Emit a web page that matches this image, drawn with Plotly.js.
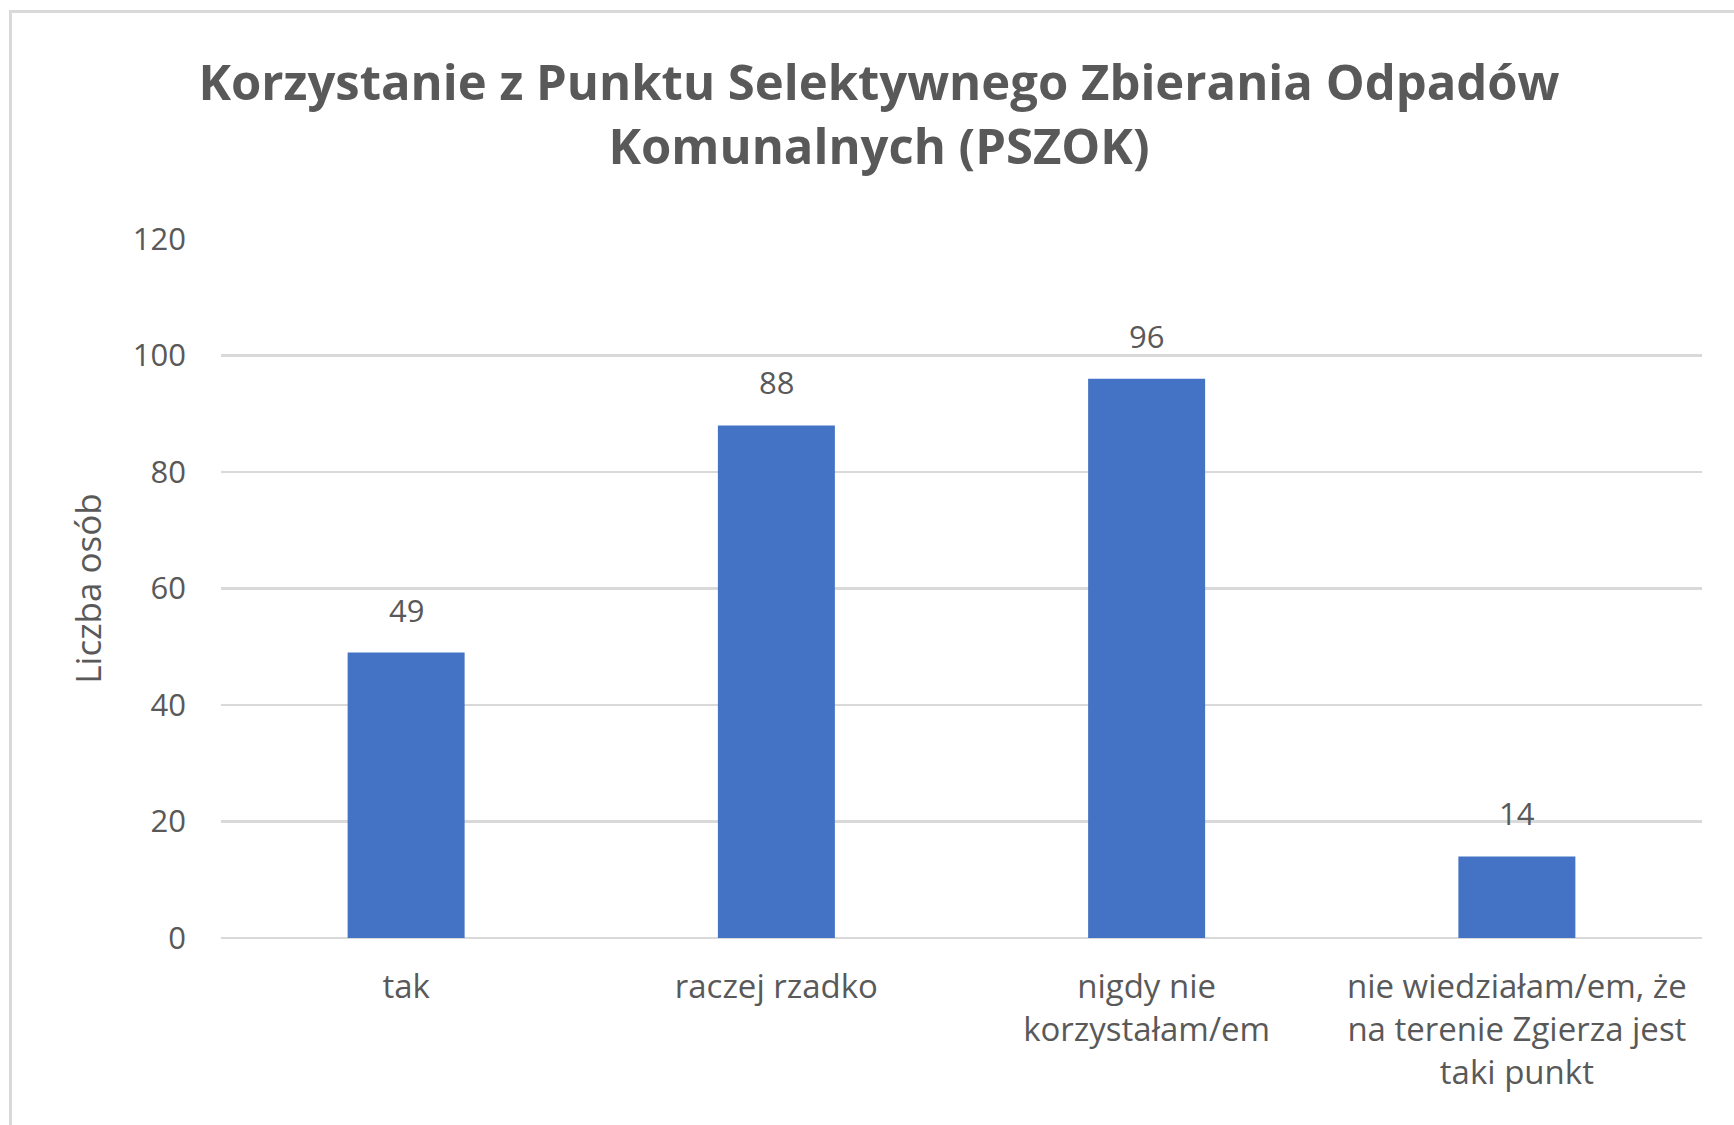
<!DOCTYPE html>
<html>
<head>
<meta charset="utf-8">
<script src="https://cdn.plot.ly/plotly-3.0.1.min.js"></script>
<style>
  html, body { margin: 0; padding: 0; background: #ffffff; overflow: hidden; }
  #chart { width: 1734px; height: 1125px; position: absolute; left: 0; top: 0; }
  #frame { position: absolute; left: 9px; top: 10px; width: 2000px; height: 2000px;
           border: 3px solid #D9D9D9; pointer-events: none; box-sizing: border-box; }
</style>
</head>
<body>
<div id="chart"></div>
<div id="frame"></div>
<script>
// ---- data ----
const categories = [
  "tak",
  "raczej rzadko",
  "nigdy nie<br>korzystałam/em",
  "nie wiedziałam/em, że<br>na terenie Zgierza jest<br>taki punkt"
];
const counts = [49, 88, 96, 14];
const chartTitle = "Korzystanie z Punktu Selektywnego Zbierania Odpadów<br>Komunalnych (PSZOK)";
const yAxisTitle = "Liczba osób";
const yTickValues = [0, 20, 40, 60, 80, 100, 120];

const textColor = "#595959";
const fontFamily = "'Open Sans', 'Noto Sans', sans-serif";

const trace = {
  type: "bar",
  x: categories,
  y: counts,
  marker: { color: "#4472C4", line: { width: 0 } },
  hoverinfo: "x+y"
};

const labelAnnotations = categories.map((c, i) => ({
  x: c,
  y: counts[i],
  xref: "x",
  yref: "y",
  text: String(counts[i]),
  showarrow: false,
  yanchor: "bottom",
  yshift: 20,
  font: { family: fontFamily, size: 31, color: textColor }
}));

const layout = {
  width: 1734,
  height: 1125,
  paper_bgcolor: "rgba(0,0,0,0)",
  plot_bgcolor: "#ffffff",
  margin: { l: 221, r: 32, t: 239, b: 187, autoexpand: false },
  showlegend: false,
  bargap: 0.684,
  title: {
    text: chartTitle,
    font: { family: fontFamily, size: 49, color: textColor, weight: "bold" },
    x: 879 / 1734,
    xref: "container",
    xanchor: "center",
    y: 1 - 100 / 1125,
    yref: "container",
    yanchor: "top"
  },
  xaxis: {
    type: "category",
    showgrid: false,
    showline: false,
    zeroline: false,
    ticks: "",
    ticklabelstandoff: 26,
    tickfont: { family: fontFamily, size: 33, color: textColor },
    automargin: false
  },
  yaxis: {
    range: [0, 120],
    tickvals: yTickValues,
    showgrid: true,
    gridcolor: "#D9D9D9",
    gridwidth: 2.5,
    zeroline: true,
    zerolinecolor: "#D9D9D9",
    zerolinewidth: 2.5,
    showline: false,
    ticks: "",
    ticklabelstandoff: 34,
    tickfont: { family: fontFamily, size: 31, color: textColor },
    automargin: false,
    title: {
      text: yAxisTitle,
      font: { family: fontFamily, size: 35, color: textColor },
      standoff: 20
    }
  },
  annotations: labelAnnotations
};

Plotly.newPlot("chart", [trace], layout, { displayModeBar: false, staticPlot: true });
</script>
</body>
</html>
